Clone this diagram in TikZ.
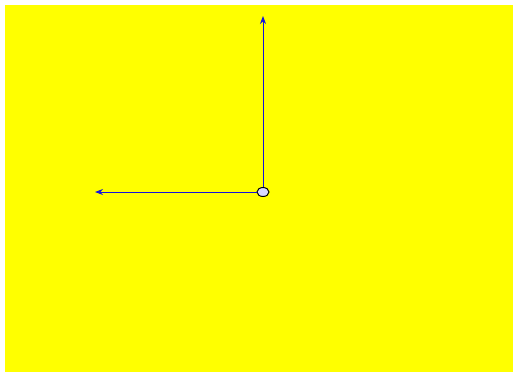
\documentclass[tikz,border=0pt]{standalone}
\usetikzlibrary{arrows.meta,shapes.geometric}
\definecolor{bgyellow}{RGB}{255,255,0}
\definecolor{linkblue}{RGB}{20,20,220}
\begin{document}
\begin{tikzpicture}[x=1pt,y=-1pt,
  conn/.style={draw=linkblue, line width=1pt, -{Stealth[length=8pt,width=6pt]}},
  origin/.style={ellipse, draw=black, line width=1pt, fill=blue!15, minimum width=12pt, minimum height=9pt, inner sep=0pt}]
\useasboundingbox (0,0) rectangle (517,376);
\fill[white] (0,0) rectangle (517,376);
\fill[bgyellow] (5,5) rectangle (513,372);
\node[origin] (o) at (263,192) {};
\coordinate (top) at (263,16);
\coordinate (left) at (95,192);
\draw[conn] (o.north) -- (top);
\draw[conn] (o.west) -- (left);
\end{tikzpicture}
\end{document}
